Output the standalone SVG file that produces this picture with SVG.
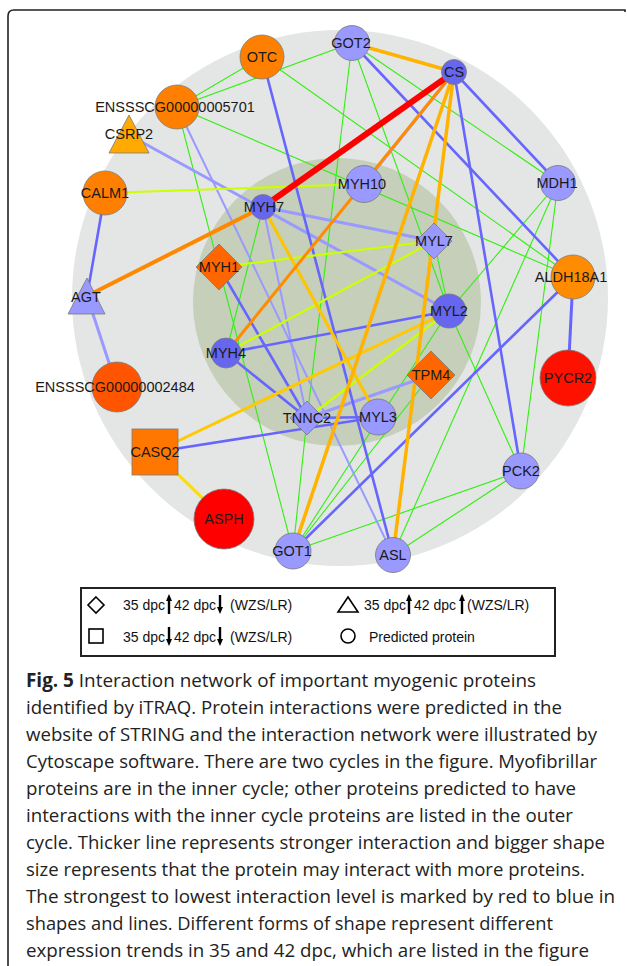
<svg xmlns="http://www.w3.org/2000/svg" width="627" height="966" viewBox="0 0 627 966">
<style>
.lbl{font-family:"Liberation Sans",Arial,sans-serif;font-size:14.5px;fill:#1a1a1a;text-anchor:middle}
.leg{font-family:"Liberation Sans",Arial,sans-serif;font-size:14px;fill:#111}
.cap{font-family:"Open Sans","Liberation Sans",sans-serif;font-size:19px;fill:#222}
.n{stroke:#7a7a7a;stroke-width:0.8}
.c1{fill:#ff8000}.c2{fill:#9999ff}.c3{fill:#6666ee}.c4{fill:#ff6600}.c5{fill:#ff0000}
#edges line{fill:none}
.red{stroke:#ff0000;stroke-width:6}
.or{stroke:#ff8800;stroke-width:4}
.yo{stroke:#ffb300;stroke-width:3.5}
.ye{stroke:#ffc800;stroke-width:3}
.yg{stroke:#ccff00;stroke-width:2.2}
.gr{stroke:#33ee11;stroke-width:1.1}
.bl{stroke:#6666ff;stroke-width:2.6}
.lb{stroke:#9999ff;stroke-width:3}
.arr{stroke:#000;stroke-width:2.4}
</style>
<path d="M8,966 V16 Q8,10 14,10 H625 V12" fill="none" stroke="#222" stroke-width="1.6"/>
<circle cx="340" cy="298" r="268" fill="#e4e6e5"/>
<circle cx="337" cy="302" r="144" fill="#c5cfb9"/>
<g id="edges">
<line class="gr" x1="177" y1="107" x2="262" y2="57"/>
<line class="gr" x1="177" y1="107" x2="352" y2="43"/>
<line class="gr" x1="177" y1="107" x2="573" y2="277"/>
<line class="gr" x1="177" y1="107" x2="293" y2="551"/>
<line class="gr" x1="262" y1="57" x2="573" y2="277"/>
<line class="gr" x1="352" y1="43" x2="558" y2="183"/>
<line class="gr" x1="352" y1="43" x2="307" y2="418"/>
<line class="gr" x1="352" y1="43" x2="449" y2="311"/>
<line class="gr" x1="263" y1="207" x2="226" y2="353"/>
<line class="gr" x1="449" y1="311" x2="521" y2="471"/>
<line class="gr" x1="449" y1="311" x2="293" y2="551"/>
<line class="gr" x1="558" y1="183" x2="393" y2="555"/>
<line class="gr" x1="558" y1="183" x2="521" y2="471"/>
<line class="gr" x1="558" y1="183" x2="449" y2="311"/>
<line class="gr" x1="521" y1="471" x2="293" y2="551"/>
<line class="gr" x1="521" y1="471" x2="393" y2="555"/>
<line class="gr" x1="307" y1="418" x2="293" y2="551"/>
<line class="gr" x1="431" y1="375" x2="293" y2="551"/>
<line class="gr" x1="434" y1="241" x2="449" y2="311"/>
<line class="lb" x1="87" y1="296" x2="117" y2="387"/>
<line class="lb" x1="129" y1="135" x2="449" y2="311"/>
<line class="lb" x1="263" y1="207" x2="434" y2="241"/>
<line class="lb" x1="454" y1="72" x2="364" y2="184"/>
<line class="lb" x1="307" y1="418" x2="431" y2="375"/>
<line class="lb" x1="263" y1="207" x2="307" y2="418" style="stroke-width:2"/>
<line class="lb" x1="177" y1="107" x2="393" y2="555" style="stroke-width:2"/>
<line class="bl" x1="105" y1="193" x2="87" y2="296"/>
<line class="bl" x1="262" y1="57" x2="393" y2="555"/>
<line class="bl" x1="454" y1="72" x2="521" y2="471"/>
<line class="bl" x1="454" y1="72" x2="558" y2="183"/>
<line class="bl" x1="352" y1="43" x2="573" y2="277"/>
<line class="bl" x1="293" y1="551" x2="573" y2="277"/>
<line class="bl" x1="573" y1="277" x2="568" y2="378" style="stroke-width:3"/>
<line class="bl" x1="219" y1="267" x2="307" y2="418"/>
<line class="bl" x1="226" y1="353" x2="307" y2="418"/>
<line class="bl" x1="226" y1="353" x2="449" y2="311"/>
<line class="bl" x1="307" y1="418" x2="378" y2="417"/>
<line class="bl" x1="155" y1="452" x2="378" y2="417"/>
<line class="yg" x1="105" y1="193" x2="364" y2="184"/>
<line class="yg" x1="219" y1="267" x2="434" y2="241"/>
<line class="yg" x1="226" y1="353" x2="434" y2="241"/>
<line class="yg" x1="307" y1="418" x2="449" y2="311"/>
<line class="ye" x1="263" y1="207" x2="378" y2="417" style="stroke:#ffc400"/>
<line class="ye" x1="155" y1="452" x2="449" y2="311"/>
<line class="ye" x1="155" y1="452" x2="224" y2="519" style="stroke:#ffdd00"/>
<line class="yo" x1="352" y1="43" x2="454" y2="72"/>
<line class="yo" x1="454" y1="72" x2="293" y2="551"/>
<line class="yo" x1="454" y1="72" x2="393" y2="555"/>
<line class="or" x1="87" y1="296" x2="263" y2="207"/>
<line class="or" x1="226" y1="353" x2="454" y2="72" style="stroke-width:3;stroke:#ff8c00"/>
<line class="red" x1="263" y1="207" x2="454" y2="72"/>
</g>
<g id="OTC"><circle class="n c1" cx="262" cy="57" r="22"/><text class="lbl" x="262" y="62">OTC</text></g>
<g id="ENSSSCG00000005701"><circle class="n c1" cx="177" cy="107" r="22"/><text class="lbl" x="175" y="112">ENSSSCG00000005701</text></g>
<g id="CSRP2"><polygon class="n" fill="#ffaa00" points="129,115 109,153 149,153"/><text class="lbl" x="129" y="139">CSRP2</text></g>
<g id="CALM1"><circle class="n c1" cx="105" cy="193" r="22"/><text class="lbl" x="105" y="198">CALM1</text></g>
<g id="AGT"><polygon class="n c2" points="87,278 68,314 105,314"/><text class="lbl" x="86" y="302">AGT</text></g>
<g id="ENSSSCG00000002484"><circle class="n" fill="#ff5500" cx="117" cy="387" r="25"/><text class="lbl" x="115" y="392">ENSSSCG00000002484</text></g>
<g id="CASQ2"><rect class="n" fill="#ff7700" x="132" y="429" width="46" height="46"/><text class="lbl" x="155" y="457">CASQ2</text></g>
<g id="ASPH"><circle class="n c5" cx="224" cy="519" r="30"/><text class="lbl" x="224" y="524">ASPH</text></g>
<g id="GOT1"><circle class="n c2" cx="293" cy="551" r="18"/><text class="lbl" x="292" y="556">GOT1</text></g>
<g id="ASL"><circle class="n c2" cx="393" cy="555" r="17.5"/><text class="lbl" x="393" y="560">ASL</text></g>
<g id="PCK2"><circle class="n c2" cx="521" cy="471" r="18"/><text class="lbl" x="521" y="476">PCK2</text></g>
<g id="PYCR2"><circle class="n" fill="#ff1100" cx="568" cy="378" r="28"/><text class="lbl" x="568" y="383">PYCR2</text></g>
<g id="ALDH18A1"><circle class="n" fill="#ff8c00" cx="573" cy="277" r="22"/><text class="lbl" x="571" y="282">ALDH18A1</text></g>
<g id="MDH1"><circle class="n c2" cx="558" cy="183" r="17.5"/><text class="lbl" x="557" y="188">MDH1</text></g>
<g id="CS"><circle class="n c3" cx="454" cy="72" r="12.5"/><text class="lbl" x="454" y="77">CS</text></g>
<g id="GOT2"><circle class="n c2" cx="352" cy="43" r="17.5"/><text class="lbl" x="351" y="48">GOT2</text></g>
<g id="MYH10"><circle class="n c2" cx="364" cy="184" r="18.5"/><text class="lbl" x="362" y="189">MYH10</text></g>
<g id="MYH7"><circle class="n c3" cx="263" cy="207" r="12.5"/><text class="lbl" x="264" y="212">MYH7</text></g>
<g id="MYL7"><polygon class="n c2" points="434,223 452,241 434,259 416,241"/><text class="lbl" x="434" y="246">MYL7</text></g>
<g id="MYH1"><polygon class="n c4" points="219,244 242,267 219,290 196,267"/><text class="lbl" x="219" y="272">MYH1</text></g>
<g id="MYL2"><circle class="n c3" cx="449" cy="311" r="17"/><text class="lbl" x="449" y="316">MYL2</text></g>
<g id="MYH4"><circle class="n c3" cx="226" cy="353" r="15"/><text class="lbl" x="226" y="358">MYH4</text></g>
<g id="TPM4"><polygon class="n c4" points="431,351 455,375 431,399 407,375"/><text class="lbl" x="431" y="380">TPM4</text></g>
<g id="TNNC2"><polygon class="n c2" points="307,401 324,418 307,435 290,418"/><text class="lbl" x="307" y="423">TNNC2</text></g>
<g id="MYL3"><circle class="n c2" cx="378" cy="417" r="18"/><text class="lbl" x="378" y="422">MYL3</text></g>
<g id="legend">
<rect x="81" y="588" width="474" height="68" fill="#fff" stroke="#222" stroke-width="2"/>
<polygon points="96,597 104,605 96,613 88,605" fill="none" stroke="#000" stroke-width="1.6"/>
<text class="leg" x="123" y="610">35 dpc</text>
<line class="arr" x1="169" y1="600" x2="169" y2="614"/><polygon points="166,601 169,594 172,601"/>
<text class="leg" x="174" y="610">42 dpc</text>
<line class="arr" x1="220" y1="595" x2="220" y2="608"/><polygon points="217,607 220,614 223,607"/>
<text class="leg" x="230" y="610">(WZS/LR)</text>
<polygon points="348,597 358,612 338,612" fill="none" stroke="#000" stroke-width="1.6"/>
<text class="leg" x="364" y="610">35 dpc</text>
<line class="arr" x1="409" y1="600" x2="409" y2="614"/><polygon points="406,601 409,594 412,601"/>
<text class="leg" x="414" y="610">42 dpc</text>
<line class="arr" x1="462" y1="600" x2="462" y2="614"/><polygon points="459,601 462,594 465,601"/>
<text class="leg" x="467" y="610">(WZS/LR)</text>
<rect x="89" y="629" width="14" height="14" fill="none" stroke="#000" stroke-width="1.6"/>
<text class="leg" x="123" y="642">35 dpc</text>
<line class="arr" x1="169" y1="627" x2="169" y2="640"/><polygon points="166,639 169,646 172,639"/>
<text class="leg" x="174" y="642">42 dpc</text>
<line class="arr" x1="220" y1="627" x2="220" y2="640"/><polygon points="217,639 220,646 223,639"/>
<text class="leg" x="230" y="642">(WZS/LR)</text>
<circle cx="348" cy="636" r="7" fill="none" stroke="#000" stroke-width="1.6"/>
<text class="leg" x="369" y="642">Predicted protein</text>
</g>
<g id="caption">
<text class="cap" x="26" y="687" textLength="510" lengthAdjust="spacingAndGlyphs"><tspan font-weight="bold">Fig. 5</tspan> Interaction network of important myogenic proteins</text>
<text class="cap" x="26" y="714" textLength="536" lengthAdjust="spacingAndGlyphs">identified by iTRAQ. Protein interactions were predicted in the</text>
<text class="cap" x="26" y="741" textLength="571" lengthAdjust="spacingAndGlyphs">website of STRING and the interaction network were illustrated by</text>
<text class="cap" x="26" y="768" textLength="571" lengthAdjust="spacingAndGlyphs">Cytoscape software. There are two cycles in the figure. Myofibrillar</text>
<text class="cap" x="26" y="795" textLength="550" lengthAdjust="spacingAndGlyphs">proteins are in the inner cycle; other proteins predicted to have</text>
<text class="cap" x="26" y="822" textLength="547" lengthAdjust="spacingAndGlyphs">interactions with the inner cycle proteins are listed in the outer</text>
<text class="cap" x="26" y="849" textLength="579" lengthAdjust="spacingAndGlyphs">cycle. Thicker line represents stronger interaction and bigger shape</text>
<text class="cap" x="26" y="876" textLength="559" lengthAdjust="spacingAndGlyphs">size represents that the protein may interact with more proteins.</text>
<text class="cap" x="26" y="903" textLength="589" lengthAdjust="spacingAndGlyphs">The strongest to lowest interaction level is marked by red to blue in</text>
<text class="cap" x="26" y="930" textLength="527" lengthAdjust="spacingAndGlyphs">shapes and lines. Different forms of shape represent different</text>
<text class="cap" x="26" y="957" textLength="563" lengthAdjust="spacingAndGlyphs">expression trends in 35 and 42 dpc, which are listed in the figure</text>
</g>
</svg>
